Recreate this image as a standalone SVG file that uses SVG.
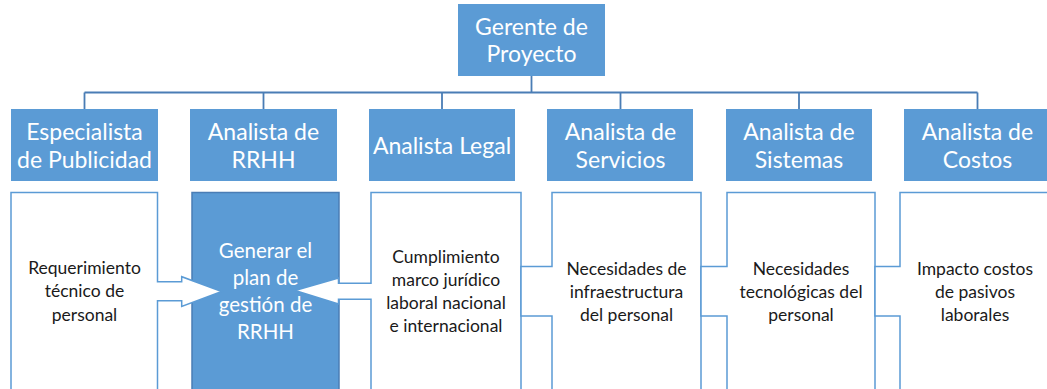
<svg xmlns="http://www.w3.org/2000/svg" width="1047" height="389" viewBox="0 0 1047 389">
<style>
.role{fill:#5b9bd5;stroke:none}
.t{font-family:Lato,"Liberation Sans",sans-serif;text-anchor:middle}
.tw{fill:#ffffff;font-size:23px}
.tb{fill:#1a1a1a;font-size:17.5px}
.tf{fill:#ffffff;font-size:20.5px}
.out{fill:#ffffff;stroke:#5b9bd5;stroke-width:1.5}
.conn{fill:none;stroke:#4a7db5;stroke-width:1.8}
</style>
<rect width="1047" height="389" fill="#ffffff"/>
<g id="connectors">
<path class="conn" d="M531.5,76 V92.5 M84.5,92.5 H977.5 M84.5,92.5 V109 M263.5,92.5 V109 M442,92.5 V109 M620.5,92.5 V109 M799,92.5 V109 M977.5,92.5 V109"/>
</g>
<g id="gerente">
<rect class="role" x="458" y="4" width="147" height="72"/>
<text class="t tw" x="531.5" y="34.5">Gerente de</text>
<text class="t tw" x="531.5" y="62">Proyecto</text>
</g>
<g id="especialista-publicidad">
<rect class="role" x="11" y="109" width="147" height="72"/>
<text class="t tw" x="84.5" y="139.5">Especialista</text>
<text class="t tw" x="84.5" y="168">de Publicidad</text>
</g>
<g id="analista-rrhh">
<rect class="role" x="190" y="109" width="147" height="72"/>
<text class="t tw" x="263.5" y="139.5">Analista de</text>
<text class="t tw" x="263.5" y="168">RRHH</text>
</g>
<g id="analista-legal">
<rect class="role" x="369" y="109" width="146" height="72"/>
<text class="t tw" x="442" y="153.5">Analista Legal</text>
</g>
<g id="analista-servicios">
<rect class="role" x="547" y="109" width="146" height="72"/>
<text class="t tw" x="620.5" y="139.5">Analista de</text>
<text class="t tw" x="620.5" y="168">Servicios</text>
</g>
<g id="analista-sistemas">
<rect class="role" x="726" y="109" width="146" height="72"/>
<text class="t tw" x="799" y="139.5">Analista de</text>
<text class="t tw" x="799" y="168">Sistemas</text>
</g>
<g id="analista-costos">
<rect class="role" x="904" y="109" width="150" height="72"/>
<text class="t tw" x="977.5" y="139.5">Analista de</text>
<text class="t tw" x="977.5" y="168">Costos</text>
</g>
<g id="plan-rrhh">
<rect x="192" y="192.5" width="147" height="205" fill="#5b9bd5" stroke="#4a7db5" stroke-width="1.5"/>
<text class="t tf" x="265.5" y="258">Generar el</text>
<text class="t tf" x="265.5" y="285">plan de</text>
<text class="t tf" x="265.5" y="312">gestión de</text>
<text class="t tf" x="265.5" y="339">RRHH</text>
</g>
<g id="requerimiento">
<path class="out" d="M11,192.5 H157.5 V281.7 H181.7 V276.7 L221.7,291.5 L181.7,306.5 V300.7 H157.5 V398 H11 Z"/>
<text class="t tb" x="84.5" y="273.5">Requerimiento</text>
<text class="t tb" x="84.5" y="297">técnico de</text>
<text class="t tb" x="84.5" y="320.5">personal</text>
</g>
<g id="cumplimiento">
<path class="out" d="M371,192.5 H521 V398 H371 V299.3 H338.5 V304 L295,290.5 L338.5,278 V283.3 H371 Z"/>
<text class="t tb" x="446" y="263">Cumplimiento</text>
<text class="t tb" x="446" y="286">marco jurídico</text>
<text class="t tb" x="446" y="309">laboral nacional</text>
<text class="t tb" x="446" y="332">e internacional</text>
</g>
<g id="infraestructura">
<path class="out" d="M552,192.5 H701 V398 H552 V316 H521 V266.5 H552 Z"/>
<text class="t tb" x="626.5" y="274.5">Necesidades de</text>
<text class="t tb" x="626.5" y="297.5">infraestructura</text>
<text class="t tb" x="626.5" y="320.5">del personal</text>
</g>
<g id="tecnologicas">
<path class="out" d="M727,192.5 H875 V398 H727 V316 H701 V266.5 H727 Z"/>
<text class="t tb" x="801" y="274.5">Necesidades</text>
<text class="t tb" x="801" y="297.5">tecnológicas del</text>
<text class="t tb" x="801" y="320.5">personal</text>
</g>
<g id="pasivos">
<path class="out" d="M900,192.5 H1055 V398 H900 V316 H875 V266.5 H900 Z"/>
<text class="t tb" x="975" y="274.5">Impacto costos</text>
<text class="t tb" x="975" y="297.5">de pasivos</text>
<text class="t tb" x="975" y="320.5">laborales</text>
</g>
</svg>
